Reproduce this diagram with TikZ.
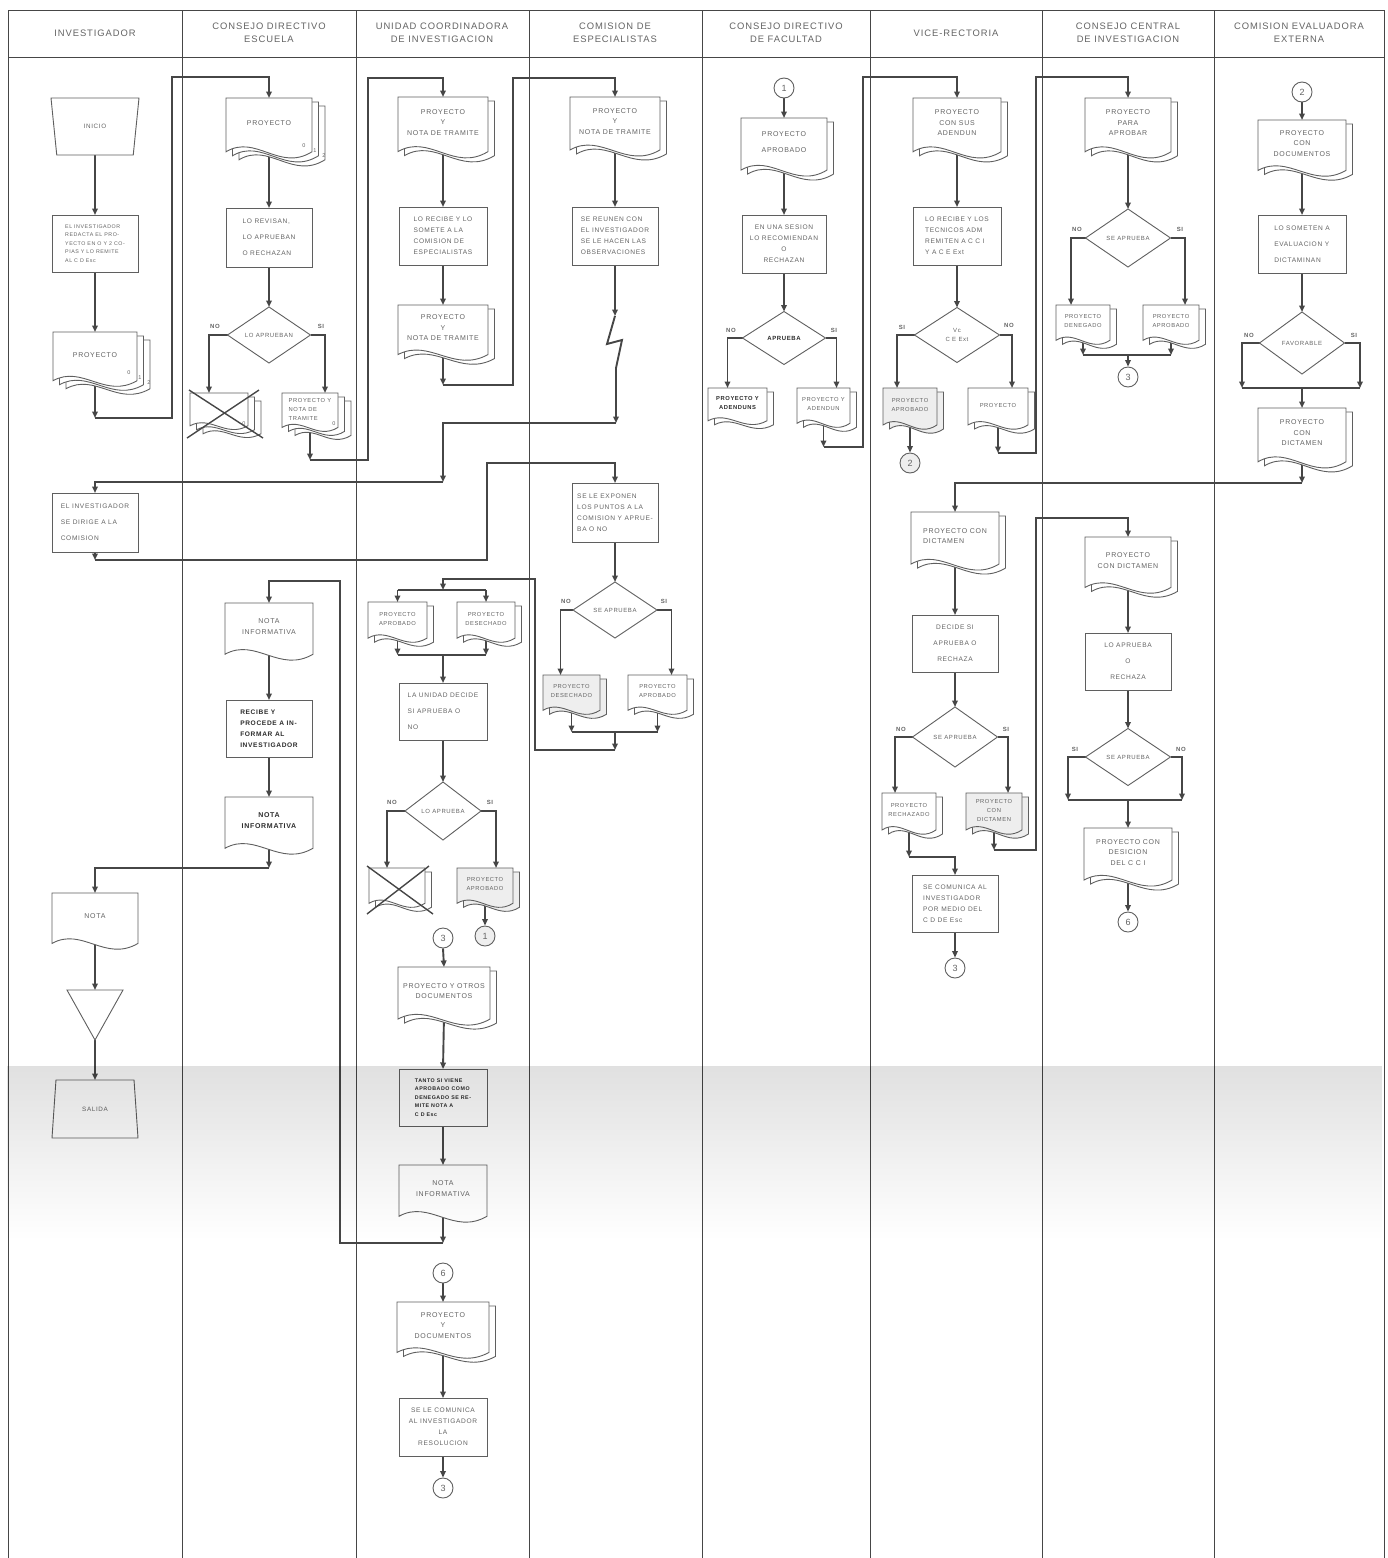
\documentclass[tikz,border=0pt]{standalone}
\usepackage{fontspec}
\setmainfont{Liberation Sans}[LetterSpace=10]
\usepackage{tikz}
\usetikzlibrary{fadings}
\usetikzlibrary{shapes.geometric}
\usetikzlibrary{arrows.meta}
\usepackage{xcolor}

\definecolor{linegray}{RGB}{70,70,70}
\definecolor{shapegray}{RGB}{95,95,95}
\definecolor{textgray}{RGB}{100,100,100}
\definecolor{darktext}{RGB}{45,45,45}
\definecolor{palegray}{RGB}{238,238,238}

\pgfdeclarelayer{back}
\pgfdeclarelayer{front}
\pgfsetlayers{back,main,front}

\tikzfading[name=scanfade, top color=transparent!88, bottom color=transparent!100]

\tikzset{
  lane/.style={draw=linegray, line width=1pt},
  flow/.style={draw=linegray, line width=1.9pt, -{Triangle[length=6.5pt,width=5.5pt]}},
  wire/.style={draw=linegray, line width=1.9pt},
  shp/.style={draw=shapegray, line width=0.9pt, fill=white},
  xline/.style={draw=linegray, line width=1.4pt},
  procbox/.style={rectangle, draw=shapegray, line width=0.9pt, fill=white, inner sep=2pt, outer sep=0pt, text=textgray, align=left, font=\fontsize{6.6}{11}\selectfont},
  sparse/.style={font=\fontsize{6.6}{16}\selectfont},
  dense/.style={font=\fontsize{5.3}{8.6}\selectfont},
  decision/.style={diamond, draw=shapegray, line width=0.9pt, fill=white, inner sep=0pt, outer sep=0pt, text=textgray, align=center, font=\fontsize{6}{9}\selectfont},
  docline/.style={draw=shapegray, line width=0.9pt, fill=white},
  docarea/.style={rectangle, inner sep=0pt, outer sep=0pt, text=textgray, align=center, font=\fontsize{7}{10.5}\selectfont},
  docsm/.style={font=\fontsize{5.8}{9}\selectfont},
  conn/.style={circle, draw=shapegray, line width=0.9pt, fill=white, minimum size=20pt, inner sep=0pt, text=textgray, font=\fontsize{9}{9}\selectfont},
  yesno/.style={inner sep=0pt, text=textgray, font=\fontsize{6}{6}\selectfont\bfseries},
  digit/.style={inner sep=0pt, text=textgray, font=\fontsize{5.5}{5}\selectfont},
  lanehead/.style={text=textgray, align=center, font=\fontsize{9.4}{13}\selectfont},
  terminal/.style={trapezium, draw=shapegray, line width=0.9pt, fill=white, trapezium stretches=true, inner sep=0pt, outer sep=0pt, text=textgray, font=\fontsize{6.3}{7}\selectfont},
  pale/.style={fill=palegray},
  boldtx/.style={text=darktext, execute at begin node=\bfseries},
}

% document outline: opts, left, top, right, bottom
\newcommand{\docout}[5]{%
  \draw[docline,#1] (#2,#3) -- (#4,#3) -- (#4,{#3+0.84*(#5-#3)})
    .. controls ({#2+0.62*(#4-#2)},{#3+1.16*(#5-#3)}) and ({#2+0.35*(#4-#2)},{#3+0.56*(#5-#3)})
    .. (#2,{#3+0.84*(#5-#3)}) -- cycle;}
% document: outline opts, node opts, back pages, name, left, top, right, bottom, text
\newcommand{\docu}[9]{%
  \ifnum#3>1 \docout{#1,shift={(13,8)}}{#5}{#6}{#7}{#8}\fi
  \ifnum#3>0 \docout{#1,shift={(6.5,4)}}{#5}{#6}{#7}{#8}\fi
  \docout{#1}{#5}{#6}{#7}{#8}%
  \node[docarea,#2,minimum width={#7-#5},minimum height={0.78*(#8-#6)}] (#4) at ({(#5+#7)/2},{#6+0.39*(#8-#6)}) {#9};}

\begin{document}
\begin{tikzpicture}[x=1pt,y=1pt,yscale=-1,xscale=1]
\useasboundingbox (0,0) rectangle (1388,1558);

% Text Node
\node[lanehead] (h1) at (95,33) {INVESTIGADOR};
% Text Node
\node[lanehead] (h2) at (269,33) {CONSEJO DIRECTIVO\\ESCUELA};
% Text Node
\node[lanehead] (h3) at (442,33) {UNIDAD COORDINADORA\\DE INVESTIGACION};
% Text Node
\node[lanehead] (h4) at (615,33) {COMISION DE\\ESPECIALISTAS};
% Text Node
\node[lanehead] (h5) at (786,33) {CONSEJO DIRECTIVO\\DE FACULTAD};
% Text Node
\node[lanehead] (h6) at (956,33) {VICE-RECTORIA};
% Text Node
\node[lanehead] (h7) at (1128,33) {CONSEJO CENTRAL\\DE INVESTIGACION};
% Text Node
\node[lanehead] (h8) at (1299,33) {COMISION EVALUADORA\\EXTERNA};

%%% INVESTIGADOR
%Shape: Trapezoid
\node[terminal, trapezium left angle=110.7, trapezium right angle=110.7, minimum width=88, minimum height=57] (inicio) at (95,126.5) {INICIO};
%Shape: Rectangle
\node[procbox, dense, minimum width=86, minimum height=57] (b1a) at (95,243.5) {EL INVESTIGADOR\\REDACTA EL PRO-\\YECTO EN O Y 2 CO-\\PIAS Y LO REMITE\\AL C D Esc};
%Shape: Document
\docu{}{}{2}{d1a}{53}{332}{137}{390}{PROYECTO}
\node[digit] (d1a-n0) at (129,373) {0};
\node[digit] (d1a-n1) at (140,378) {1};
\node[digit] (d1a-n2) at (149,383) {2};
%Shape: Rectangle
\node[procbox, sparse, minimum width=86, minimum height=59] (b1b) at (95,522.5) {EL INVESTIGADOR\\SE DIRIGE A LA\\COMISION};
%Shape: Document
\docu{}{}{0}{d1b}{52}{893}{138}{953}{NOTA}
%Shape: Triangle
\draw[shp] (67,990) -- (123,990) -- (95,1040) -- cycle;
\coordinate (t1a) at (95,990);
\coordinate (t1b) at (95,1040);
%Shape: Trapezoid
\node[terminal, trapezium left angle=73.7, trapezium right angle=73.7, minimum width=86, minimum height=58] (salida) at (95,1109) {SALIDA};

%%% CONSEJO DIRECTIVO ESCUELA
%Shape: Document
\docu{}{}{2}{d2a}{226}{98}{312}{162}{PROYECTO}
\node[digit] (d2a-n0) at (304,146) {0};
\node[digit] (d2a-n1) at (315,151) {1};
\node[digit] (d2a-n2) at (324,156) {2};
%Shape: Rectangle
\node[procbox, sparse, minimum width=86, minimum height=59] (b2a) at (269,237.5) {LO REVISAN,\\LO APRUEBAN\\O RECHAZAN};
%Shape: Diamond
\node[decision, minimum width=83, minimum height=56] (q2a) at (269,335) {LO APRUEBAN};
\node[yesno] (q2a-no) at (215,326) {NO};
\node[yesno] (q2a-si) at (321,326) {SI};
%Shape: Document
\docu{}{}{2}{x2a}{190}{393}{248}{432}{}
\draw[xline] (189,390) -- (263,438);
\draw[xline] (259,390) -- (187,438);
\node[digit] (x2a-n0) at (244,424) {0};
%Shape: Document
\docu{}{docsm, align=left}{2}{d2b}{282}{393}{338}{434}{PROYECTO Y\\NOTA DE\\TRAMITE}
\node[digit] (d2b-n0) at (334,424) {0};
%Shape: Document
\docu{}{}{0}{d2c}{225}{603}{313}{664}{NOTA\\INFORMATIVA}
%Shape: Rectangle
\node[procbox, boldtx, minimum width=86, minimum height=57] (b2b) at (269,728.5) {RECIBE Y\\PROCEDE A IN-\\FORMAR AL\\INVESTIGADOR};
%Shape: Document
\docu{}{boldtx}{0}{d2d}{225}{797}{313}{858}{NOTA\\INFORMATIVA}

%%% UNIDAD COORDINADORA
%Shape: Document
\docu{}{}{1}{d3a}{398}{97}{488}{162}{PROYECTO\\Y\\NOTA DE TRAMITE}
%Shape: Rectangle
\node[procbox, minimum width=88, minimum height=58] (b3a) at (443,236) {LO RECIBE Y LO\\SOMETE A LA\\COMISION DE\\ESPECIALISTAS};
%Shape: Document
\docu{}{}{1}{d3b}{398}{305}{488}{364}{PROYECTO\\Y\\NOTA DE TRAMITE}
%Shape: Document
\docu{}{docsm}{1}{d3c}{368}{602}{427}{645}{PROYECTO\\APROBADO}
%Shape: Document
\docu{}{docsm}{1}{d3d}{457}{602}{515}{645}{PROYECTO\\DESECHADO}
%Shape: Rectangle
\node[procbox, sparse, minimum width=88, minimum height=57] (b3b) at (443,711.5) {LA UNIDAD DECIDE\\SI APRUEBA O\\NO};
%Shape: Diamond
\node[decision, minimum width=76, minimum height=58] (q3a) at (443,811) {LO APRUEBA};
\node[yesno] (q3a-no) at (392,802) {NO};
\node[yesno] (q3a-si) at (490,802) {SI};
%Shape: Document
\docu{}{}{1}{x3b}{369}{868}{425}{910}{}
\draw[xline] (367,866) -- (433,914);
\draw[xline] (429,866) -- (367,914);
%Shape: Document
\docu{pale}{docsm}{1}{d3e}{457}{868}{513}{910}{PROYECTO\\APROBADO}
%Shape: Circle
\node[conn, pale] (k3a) at (485,936) {1};
%Shape: Circle
\node[conn] (k3b) at (443,938) {3};
%Shape: Document
\docu{}{}{1}{d3f}{398}{967}{490}{1029}{PROYECTO Y OTROS\\DOCUMENTOS}
%Shape: Rectangle
\node[procbox, dense, boldtx, minimum width=88, minimum height=57] (b3c) at (443,1097.5) {TANTO SI VIENE\\APROBADO COMO\\DENEGADO SE RE-\\MITE NOTA A\\C D Esc};
%Shape: Document
\docu{}{}{0}{d3g}{399}{1165}{487}{1226}{NOTA\\INFORMATIVA}
%Shape: Circle
\node[conn] (k3c) at (443,1273) {6};
%Shape: Document
\docu{}{}{1}{d3h}{397}{1302}{489}{1362}{PROYECTO\\Y\\DOCUMENTOS}
%Shape: Rectangle
\node[procbox, align=center, minimum width=88, minimum height=58] (b3d) at (443,1427) {SE LE COMUNICA\\AL INVESTIGADOR\\LA\\RESOLUCION};
%Shape: Circle
\node[conn] (k3d) at (443,1488) {3};

%%% COMISION DE ESPECIALISTAS
%Shape: Document
\docu{}{}{1}{d4a}{570}{97}{660}{160}{PROYECTO\\Y\\NOTA DE TRAMITE}
%Shape: Rectangle
\node[procbox, minimum width=86, minimum height=58] (b4a) at (615,236) {SE REUNEN CON\\EL INVESTIGADOR\\SE LE HACEN LAS\\OBSERVACIONES};
%Shape: Rectangle
\node[procbox, minimum width=86, minimum height=59] (b4b) at (615,512.5) {SE LE EXPONEN\\LOS PUNTOS A LA\\COMISION Y APRUE-\\BA O NO};
%Shape: Diamond
\node[decision, minimum width=84, minimum height=56] (q4a) at (615,610) {SE APRUEBA};
\node[yesno] (q4a-no) at (566,601) {NO};
\node[yesno] (q4a-si) at (664,601) {SI};
%Shape: Document
\docu{pale}{docsm}{1}{d4b}{543}{675}{600}{717}{PROYECTO\\DESECHADO}
%Shape: Document
\docu{}{docsm}{1}{d4c}{628}{675}{687}{717}{PROYECTO\\APROBADO}

%%% CONSEJO DIRECTIVO DE FACULTAD
%Shape: Circle
\node[conn] (k5a) at (784,88) {1};
%Shape: Document
\docu{}{}{1}{d5a}{741}{118}{827}{180}{PROYECTO\\[6pt]APROBADO}
%Shape: Rectangle
\node[procbox, align=center, minimum width=84, minimum height=58] (b5a) at (784,244) {EN UNA SESION\\LO RECOMIENDAN\\O\\RECHAZAN};
%Shape: Diamond
\node[decision, boldtx, minimum width=83, minimum height=53] (q5a) at (784,338) {APRUEBA};
\node[yesno] (q5a-no) at (731,330) {NO};
\node[yesno] (q5a-si) at (834,330) {SI};
%Shape: Document
\docu{}{docsm, boldtx}{1}{d5b}{708}{388}{767}{427}{PROYECTO Y\\ADENDUNS}
%Shape: Document
\docu{}{docsm}{1}{d5c}{797}{388}{850}{430}{PROYECTO Y\\ADENDUN}

%%% VICE-RECTORIA
%Shape: Document
\docu{}{}{1}{d6a}{913}{98}{1001}{162}{PROYECTO\\CON SUS\\ADENDUN}
%Shape: Rectangle
\node[procbox, minimum width=88, minimum height=58] (b6a) at (957,236) {LO RECIBE Y LOS\\TECNICOS ADM\\REMITEN A C C I\\Y A C E Ext};
%Shape: Diamond
\node[decision, minimum width=85, minimum height=55] (q6a) at (957,335) {Vc\\C E Ext};
\node[yesno] (q6a-si) at (902,327) {SI};
\node[yesno] (q6a-no) at (1009,325) {NO};
%Shape: Document
\docu{pale}{docsm}{1}{d6b}{883}{388}{937}{432}{PROYECTO\\APROBADO}
%Shape: Document
\docu{}{docsm}{1}{d6c}{968}{388}{1028}{432}{PROYECTO}
%Shape: Circle
\node[conn, pale] (k6a) at (910,463) {2};
%Shape: Document
\docu{}{align=left}{1}{d6d}{911}{512}{999}{574}{PROYECTO CON\\DICTAMEN}
%Shape: Rectangle
\node[procbox, sparse, align=center, minimum width=86, minimum height=57] (b6b) at (955,643.5) {DECIDE SI\\APRUEBA O\\RECHAZA};
%Shape: Diamond
\node[decision, minimum width=85, minimum height=60] (q6b) at (955,737) {SE APRUEBA};
\node[yesno] (q6b-no) at (901,729) {NO};
\node[yesno] (q6b-si) at (1006,729) {SI};
%Shape: Document
\docu{}{docsm}{1}{d6e}{882}{793}{936}{837}{PROYECTO\\RECHAZADO}
%Shape: Document
\docu{pale}{docsm}{1}{d6f}{966}{793}{1022}{837}{PROYECTO\\CON\\DICTAMEN}
%Shape: Rectangle
\node[procbox, minimum width=86, minimum height=57] (b6c) at (955,903.5) {SE COMUNICA AL\\INVESTIGADOR\\POR MEDIO DEL\\C D DE Esc};
%Shape: Circle
\node[conn] (k6b) at (955,968) {3};

%%% CONSEJO CENTRAL DE INVESTIGACION
%Shape: Document
\docu{}{}{1}{d7a}{1085}{98}{1171}{162}{PROYECTO\\PARA\\APROBAR}
%Shape: Diamond
\node[decision, minimum width=85, minimum height=58] (q7a) at (1128,238) {SE APRUEBA};
\node[yesno] (q7a-no) at (1077,229) {NO};
\node[yesno] (q7a-si) at (1180,229) {SI};
%Shape: Document
\docu{}{docsm}{1}{d7c}{1056}{305}{1110}{347}{PROYECTO\\DENEGADO}
%Shape: Document
\docu{}{docsm}{1}{d7d}{1143}{305}{1199}{347}{PROYECTO\\APROBADO}
%Shape: Circle
\node[conn] (k7a) at (1128,377) {3};
%Shape: Document
\docu{}{}{1}{d7b}{1085}{537}{1171}{597}{PROYECTO\\CON DICTAMEN}
%Shape: Rectangle
\node[procbox, sparse, align=center, minimum width=86, minimum height=57] (b7a) at (1128,661.5) {LO APRUEBA\\O\\RECHAZA};
%Shape: Diamond
\node[decision, minimum width=85, minimum height=57] (q7b) at (1128,757) {SE APRUEBA};
\node[yesno] (q7b-si) at (1075,749) {SI};
\node[yesno] (q7b-no) at (1181,749) {NO};
%Shape: Document
\docu{}{}{1}{d7e}{1084}{828}{1172}{890}{PROYECTO CON\\DESICION\\DEL C C I}
%Shape: Circle
\node[conn] (k7b) at (1128,922) {6};

%%% COMISION EVALUADORA EXTERNA
%Shape: Circle
\node[conn] (k8a) at (1302,92) {2};
%Shape: Document
\docu{}{}{1}{d8a}{1258}{120}{1346}{180}{PROYECTO\\CON\\DOCUMENTOS}
%Shape: Rectangle
\node[procbox, sparse, minimum width=88, minimum height=58] (b8a) at (1302,244) {LO SOMETEN A\\EVALUACION Y\\DICTAMINAN};
%Shape: Diamond
\node[decision, minimum width=85, minimum height=62] (q8a) at (1302,343) {FAVORABLE};
\node[yesno] (q8a-no) at (1249,335) {NO};
\node[yesno] (q8a-si) at (1354,335) {SI};
%Shape: Document
\docu{}{}{1}{d8c}{1258}{408}{1346}{472}{PROYECTO\\CON\\DICTAMEN}

% turning points
\coordinate (c1a) at (95,418);
\coordinate (c2a) at (310,460);
\coordinate (c3a) at (443,385);
\coordinate (z4a) at (615,316);
\coordinate (z4b) at (616,368);
\coordinate (c4a) at (616,423);
\coordinate (c4b) at (443,482);
\coordinate (c1b) at (95,560);
\coordinate (m4a) at (615,732);
\coordinate (c4c) at (615,750);
\coordinate (c3c) at (443,590);
\coordinate (m3a) at (443,655);
\coordinate (c3d) at (443,1243);
\coordinate (c2d) at (269,868);
\coordinate (c5a) at (823.5,447);
\coordinate (c6a) at (998,453);
\coordinate (m7a) at (1128,355);
\coordinate (c8b) at (1242,388);
\coordinate (c8c) at (1360,388);
\coordinate (m8a) at (1302,388);
\coordinate (c8a) at (1302,483);
\coordinate (c6b) at (909,857);
\coordinate (c6c) at (994,850);
\coordinate (c7b) at (1068,800);
\coordinate (c7c) at (1182,800);
\coordinate (m7b) at (1128,800);

\begin{pgfonlayer}{back}
\fill[white] (0,0) rectangle (1388,1558);
%Straight Lines
\draw[lane] (8,10) rectangle (1384,57);
\draw[lane] (8,10) -- (8,1558) (182,10) -- (182,1558) (356,10) -- (356,1558) (529,10) -- (529,1558) (702,10) -- (702,1558) (870,10) -- (870,1558) (1042,10) -- (1042,1558) (1214,10) -- (1214,1558) (1384,10) -- (1384,1558);

%Connectors INVESTIGADOR / C D ESCUELA
\draw[flow] (inicio.south) -- (b1a.north);
\draw[flow] (b1a.south) -- (d1a.north);
\draw[flow] (d1a.south) -- (c1a);
\draw[flow] (c1a) -- (172,418) -- (172,77) -| (d2a.north);
\draw[flow] (d2a.south) -- (b2a.north);
\draw[flow] (b2a.south) -- (q2a.north);
\draw[flow] (q2a.west) -| ([xshift=-10pt]x2a.north);
\draw[flow] (q2a.east) -| ([xshift=15pt]d2b.north);
\draw[flow] (d2b.south) -- (c2a);
\draw[flow] (c2a) -- (368,460) -- (368,78) -| (d3a.north);
\draw[flow] (d3a.south) -- (b3a.north);
\draw[flow] (b3a.south) -- (d3b.north);
\draw[flow] (d3b.south) -- (c3a);
\draw[flow] (c3a) -- (513,385) -- (513,78) -| (d4a.north);
\draw[flow] (d4a.south) -- (b4a.north);
\draw[flow] (b4a.south) -- (z4a);
\draw[wire] (z4a) -- (607,344) -- (622,340) -- (z4b);
\draw[flow] (z4b) -- (c4a);
\draw[flow] (c4a) -| (c4b);
\draw[flow] (c4b) -| (b1b.north);
\draw[flow] (b1b.south) -- (c1b);
\draw[flow] (c1b) -- (487,560) -- (487,463) -| (b4b.north);
\draw[flow] (b4b.south) -- (q4a.north);
\draw[flow] (q4a.west) -| ([xshift=-11pt]d4b.north);
\draw[flow] (q4a.east) -| ([xshift=14pt]d4c.north);
\draw[flow] (d4b.south) -- (d4b.south |- m4a);
\draw[flow] (d4c.south) -- (d4c.south |- m4a);
\draw[wire] (d4b.south |- m4a) -- (d4c.south |- m4a);
\draw[flow] (m4a) -- (c4c);
\draw[flow] (c4c) -- (535,750) -- (535,579) -| (c3c);
\draw[wire] (d3c.north |- c3c) -- (d3d.north |- c3c);
\draw[flow] (d3c.north |- c3c) -- (d3c.north);
\draw[flow] (d3d.north |- c3c) -- (d3d.north);
\draw[flow] (d3c.south) -- (d3c.south |- m3a);
\draw[flow] (d3d.south) -- (d3d.south |- m3a);
\draw[wire] (d3c.south |- m3a) -- (d3d.south |- m3a);
\draw[flow] (m3a) -- (b3b.north);
\draw[flow] (b3b.south) -- (q3a.north);
\draw[flow] (q3a.west) -| ([xshift=-10pt]x3b.north);
\draw[flow] (q3a.east) -| ([xshift=11pt]d3e.north);
\draw[flow] (d3e.south) -- (k3a.north);
\draw[flow] (k3b.south) -- (d3f.north);
\draw[flow] (d3f.south) -- (b3c.north);
\draw[flow] (b3c.south) -- (d3g.north);
\draw[flow] (d3g.south) -- (c3d);
\draw[flow] (c3d) -- (340,1243) -- (340,581) -| (d2c.north);
\draw[flow] (k3c.south) -- (d3h.north);
\draw[flow] (d3h.south) -- (b3d.north);
\draw[flow] (b3d.south) -- (k3d.north);
\draw[flow] (d2c.south) -- (b2b.north);
\draw[flow] (b2b.south) -- (d2d.north);
\draw[flow] (d2d.south) -- (c2d);
\draw[flow] (c2d) -| (d1b.north);
\draw[flow] (d1b.south) -- (t1a);
\draw[flow] (t1b) -- (salida.north);

%Connectors C D FACULTAD / VICE-RECTORIA / C C I / C E EXTERNA
\draw[flow] (k5a.south) -- (d5a.north);
\draw[flow] (d5a.south) -- (b5a.north);
\draw[flow] (b5a.south) -- (q5a.north);
\draw[flow] (q5a.west) -| ([xshift=-10pt]d5b.north);
\draw[flow] (q5a.east) -| ([xshift=13pt]d5c.north);
\draw[flow] (d5c.south) -- (c5a);
\draw[flow] (c5a) -- (863,447) -- (863,77) -| (d6a.north);
\draw[flow] (d6a.south) -- (b6a.north);
\draw[flow] (b6a.south) -- (q6a.north);
\draw[flow] (q6a.west) -| ([xshift=-13pt]d6b.north);
\draw[flow] (q6a.east) -| ([xshift=14pt]d6c.north);
\draw[flow] (d6b.south) -- (k6a.north);
\draw[flow] (d6c.south) -- (c6a);
\draw[flow] (c6a) -- (1036,453) -- (1036,77) -| (d7a.north);
\draw[flow] (d7a.south) -- (q7a.north);
\draw[flow] (q7a.west) -| ([xshift=-12pt]d7c.north);
\draw[flow] (q7a.east) -| ([xshift=14pt]d7d.north);
\draw[flow] (d7c.south) -- (d7c.south |- m7a);
\draw[flow] (d7d.south) -- (d7d.south |- m7a);
\draw[wire] (d7c.south |- m7a) -- (d7d.south |- m7a);
\draw[flow] (m7a) -- (k7a.north);
\draw[flow] (k8a.south) -- (d8a.north);
\draw[flow] (d8a.south) -- (b8a.north);
\draw[flow] (b8a.south) -- (q8a.north);
\draw[flow] (q8a.west) -| (c8b);
\draw[flow] (q8a.east) -| (c8c);
\draw[wire] (c8b) -- (c8c);
\draw[flow] (m8a) -- (d8c.north);
\draw[flow] (d8c.south) -- (c8a);
\draw[flow] (c8a) -| (d6d.north);
\draw[flow] (d6d.south) -- (b6b.north);
\draw[flow] (b6b.south) -- (q6b.north);
\draw[flow] (q6b.west) -| ([xshift=-14pt]d6e.north);
\draw[flow] (q6b.east) -| ([xshift=14pt]d6f.north);
\draw[flow] (d6e.south) -- (c6b);
\draw[flow] (c6b) -| (b6c.north);
\draw[flow] (d6f.south) -- (c6c);
\draw[flow] (c6c) -- (1036,850) -- (1036,518) -| (d7b.north);
\draw[flow] (b6c.south) -- (k6b.north);
\draw[flow] (d7b.south) -- (b7a.north);
\draw[flow] (b7a.south) -- (q7b.north);
\draw[flow] (q7b.west) -| (c7b);
\draw[flow] (q7b.east) -| (c7c);
\draw[wire] (c7b) -- (c7c);
\draw[flow] (m7b) -- (d7e.north);
\draw[flow] (d7e.south) -- (k7b.north);
\end{pgfonlayer}

\begin{pgfonlayer}{front}
\fill[black, path fading=scanfade] (8,1066) rectangle (1384,1240);
\end{pgfonlayer}

\end{tikzpicture}
\end{document}
